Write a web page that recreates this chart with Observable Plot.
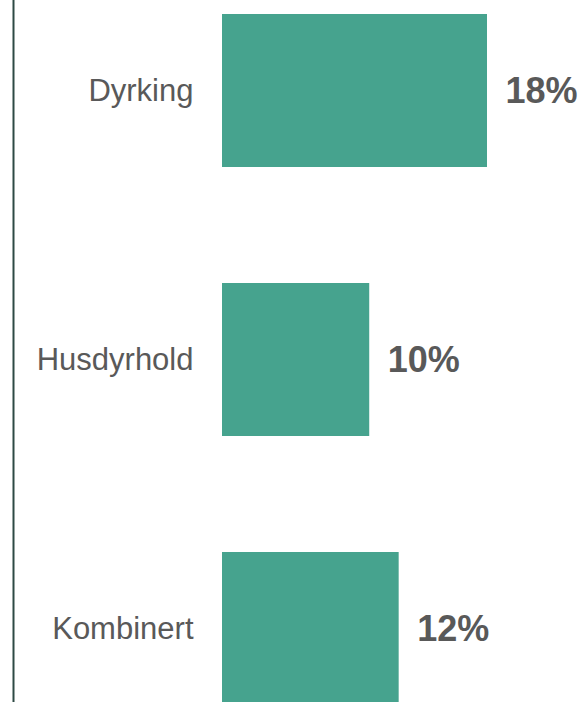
<!DOCTYPE html>
<html>
<head>
<meta charset="utf-8">
<script src="https://cdn.jsdelivr.net/npm/d3@7"></script>
<script src="https://cdn.jsdelivr.net/npm/@observablehq/plot@0.6"></script>
<style>
  html, body { margin: 0; padding: 0; background: #fff; }
</style>
</head>
<body>
<div id="chart"></div>
<script>
const categories = ["Dyrking", "Husdyrhold", "Kombinert"];
const values = [18, 10, 12];
const valueLabels = ["18%", "10%", "12%"];

const data = categories.map((c, i) => ({category: c, value: values[i], label: valueLabels[i]}));

const chart = Plot.plot({
  width: 585,
  height: 702,
  marginLeft: 13,
  marginRight: 0,
  marginTop: 0,
  marginBottom: 0,
  style: {fontFamily: "'Liberation Sans', Arial, sans-serif", background: "#fff"},
  x: {domain: [0, 18], range: [222, 487], axis: null},
  y: {domain: categories, range: [13, 705], paddingInner: 0.432, paddingOuter: 0, axis: null},
  marks: [
    Plot.frame({anchor: "left", stroke: "#2e4a45", strokeWidth: 2}),
    Plot.barX(data, {x: "value", y: "category", fill: "#46a38e"}),
    Plot.text(data, {x: 0, y: "category", text: "category", textAnchor: "end", dx: -29, fontSize: 31, fill: "#595959"}),
    Plot.text(data, {x: "value", y: "category", text: "label", textAnchor: "start", dx: 18, fontSize: 36, fontWeight: "bold", fill: "#595959"})
  ]
});
document.getElementById("chart").appendChild(chart);
</script>
</body>
</html>
